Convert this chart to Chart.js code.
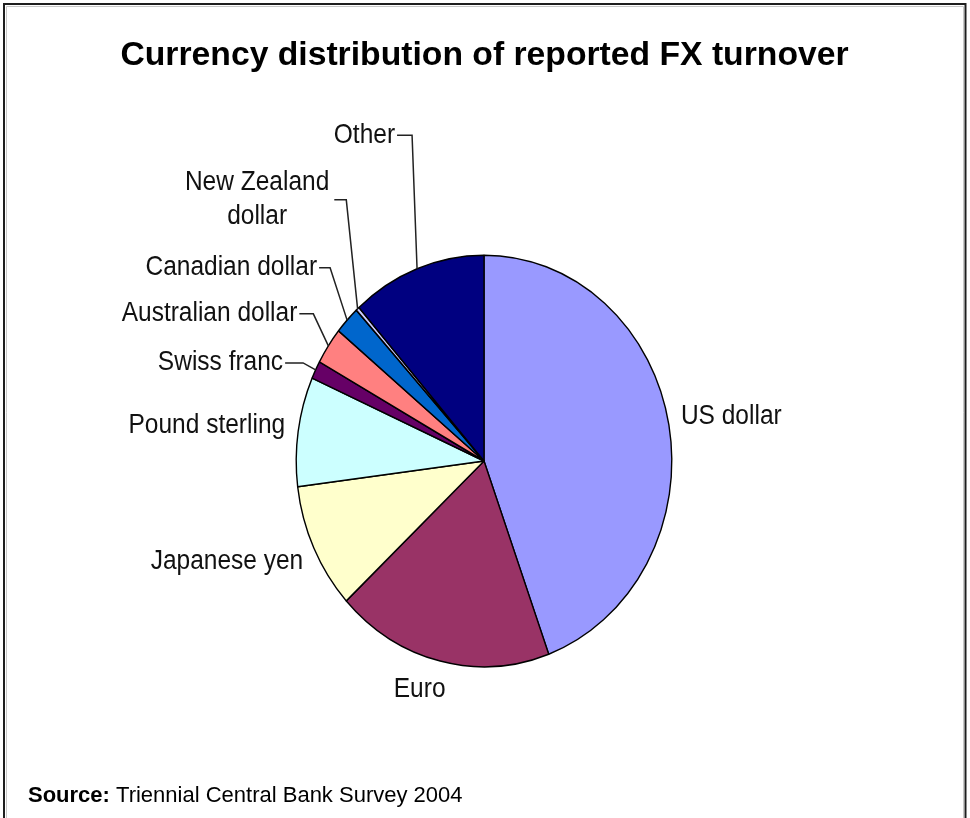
<!DOCTYPE html>
<html><head><meta charset="utf-8">
<script src="https://cdn.jsdelivr.net/npm/chart.js@4/dist/chart.umd.min.js"></script>
<style>html,body{margin:0;padding:0;background:#fff;overflow:hidden}canvas{display:block}</style>
</head><body>
<canvas id="c" width="970" height="818"></canvas>
<script>
const categories = ["US dollar","Euro","Japanese yen","Pound sterling","Swiss franc","Australian dollar","Canadian dollar","New Zealand dollar","Other"];
const shares = [44.4, 18.7, 9.9, 8.6, 1.4, 2.9, 2.2, 0.3, 11.6];
const sliceColors = ["#9999FF","#993366","#FFFFCC","#CCFFFF","#660066","#FF8080","#0066CC","#CCCCFF","#000080"];
const titleText = "Currency distribution of reported FX turnover";
const sourceLabel = "Source:";
const sourceText = "Triennial Central Bank Survey 2004";

// Style only: label placement relative to the slice's outer-edge midpoint
const labelLayout = [
  {lines:["US dollar"], align:"left", dx:12, dy:-8},
  {lines:["Euro"], align:"center", dx:-20.5, dy:28},
  {lines:["Japanese yen"], align:"right", dx:-10.6, dy:14},
  {lines:["Pound sterling"], align:"right", dx:-13, dy:-6},
  {lines:["Swiss franc"], align:"right", dx:-32.5, dy:-7, gap:2, knee:20},
  {lines:["Australian dollar"], align:"right", dx:-31, dy:-32, gap:2, knee:16},
  {lines:["Canadian dollar"], align:"right", dx:-30, dy:-52.4, gap:2, knee:13},
  {lines:["New Zealand","dollar"], align:"center", dx:-100.5, dy:-109, gap:5, knee:17},
  {lines:["Other"], align:"right", dx:-22, dy:-133.6, gap:2, knee:17}
];
const PIE_SY = 206/188;
const TEXT_SY = 1.1;
const LABEL_FONT = '24.5px "Liberation Sans", Arial, sans-serif';
const LINE_GAP = 34.5;

function stretchedText(ctx, s, x, y, align, sy){
  ctx.save(); ctx.translate(x, y); ctx.scale(1, sy);
  ctx.textAlign = align; ctx.textBaseline = 'middle';
  ctx.fillText(s, 0, 0); ctx.restore();
}

const framePlugin = {
  id: 'frame',
  beforeDraw(chart){
    const ctx = chart.ctx;
    ctx.save();
    ctx.fillStyle = '#fff'; ctx.fillRect(0,0,chart.width,chart.height);
    ctx.strokeStyle = '#c8c8c8'; ctx.lineWidth = 1;
    ctx.beginPath(); ctx.moveTo(6.5, 818); ctx.lineTo(6.5, 6.5); ctx.lineTo(963.5, 6.5); ctx.lineTo(963.5, 818); ctx.stroke();
    ctx.strokeStyle = '#1e1e1e'; ctx.lineWidth = 2;
    ctx.beginPath(); ctx.moveTo(4, 818); ctx.lineTo(4, 4); ctx.lineTo(965.5, 4); ctx.lineTo(965.5, 818); ctx.stroke();
    ctx.restore();
  }
};

const ellipsePlugin = {
  id: 'ellipse',
  beforeDatasetsDraw(chart){
    const a = chart.getDatasetMeta(0).data[0];
    const ctx = chart.ctx;
    ctx.save(); ctx.translate(a.x, a.y); ctx.scale(1, PIE_SY); ctx.translate(-a.x, -a.y);
  },
  afterDatasetsDraw(chart){ chart.ctx.restore(); }
};

const labelPlugin = {
  id: 'labels',
  afterDraw(chart){
    const ctx = chart.ctx;
    const meta = chart.getDatasetMeta(0);
    ctx.save();
    // title
    ctx.fillStyle = '#000';
    ctx.font = 'bold 33.7px "Liberation Sans", Arial, sans-serif';
    ctx.textAlign = 'center'; ctx.textBaseline = 'alphabetic';
    ctx.fillText(titleText, 484.5, 65);
    // source
    ctx.textAlign = 'left';
    ctx.font = 'bold 22px "Liberation Sans", Arial, sans-serif';
    ctx.fillText(sourceLabel, 28, 802);
    const w0 = ctx.measureText(sourceLabel + ' ').width;
    ctx.font = '22px "Liberation Sans", Arial, sans-serif';
    ctx.fillText(sourceText, 28 + w0, 802);
    // slice labels
    ctx.font = LABEL_FONT;
    meta.data.forEach((arc, i) => {
      const p = arc.getProps(['x','y','startAngle','endAngle','outerRadius'], true);
      const mid = (p.startAngle + p.endAngle) / 2;
      const ex = p.x + p.outerRadius * Math.cos(mid);
      const ey = p.y + p.outerRadius * Math.sin(mid) * PIE_SY;
      const L = labelLayout[i];
      const tx = ex + L.dx, ty = ey + L.dy;
      const n = L.lines.length;
      let maxW = 0;
      L.lines.forEach((s, k) => {
        maxW = Math.max(maxW, ctx.measureText(s).width);
        ctx.fillStyle = '#111';
        stretchedText(ctx, s, tx, ty + (k - (n-1)/2) * LINE_GAP, L.align, TEXT_SY);
      });
      if (L.knee !== undefined) {
        let right = L.align === 'right' ? tx : (L.align === 'center' ? tx + maxW/2 : tx + maxW);
        ctx.strokeStyle = '#222'; ctx.lineWidth = 1.5;
        ctx.beginPath();
        ctx.moveTo(right + L.gap, ty);
        ctx.lineTo(right + L.knee, ty);
        ctx.lineTo(ex, ey);
        ctx.stroke();
      }
    });
    ctx.restore();
  }
};

new Chart(document.getElementById('c'), {
  type: 'pie',
  data: {
    labels: categories,
    datasets: [{
      data: shares,
      backgroundColor: sliceColors,
      borderColor: '#000',
      borderWidth: 1.4,
      hoverOffset: 0
    }]
  },
  options: {
    responsive: false,
    animation: false,
    events: [],
    layout: { padding: { left: 295.5, right: 297.5, top: 272.5, bottom: 168.5 } },
    plugins: {
      legend: { display: false },
      tooltip: { enabled: false },
      title: { display: false }
    }
  },
  plugins: [framePlugin, ellipsePlugin, labelPlugin]
});
</script>
</body></html>
